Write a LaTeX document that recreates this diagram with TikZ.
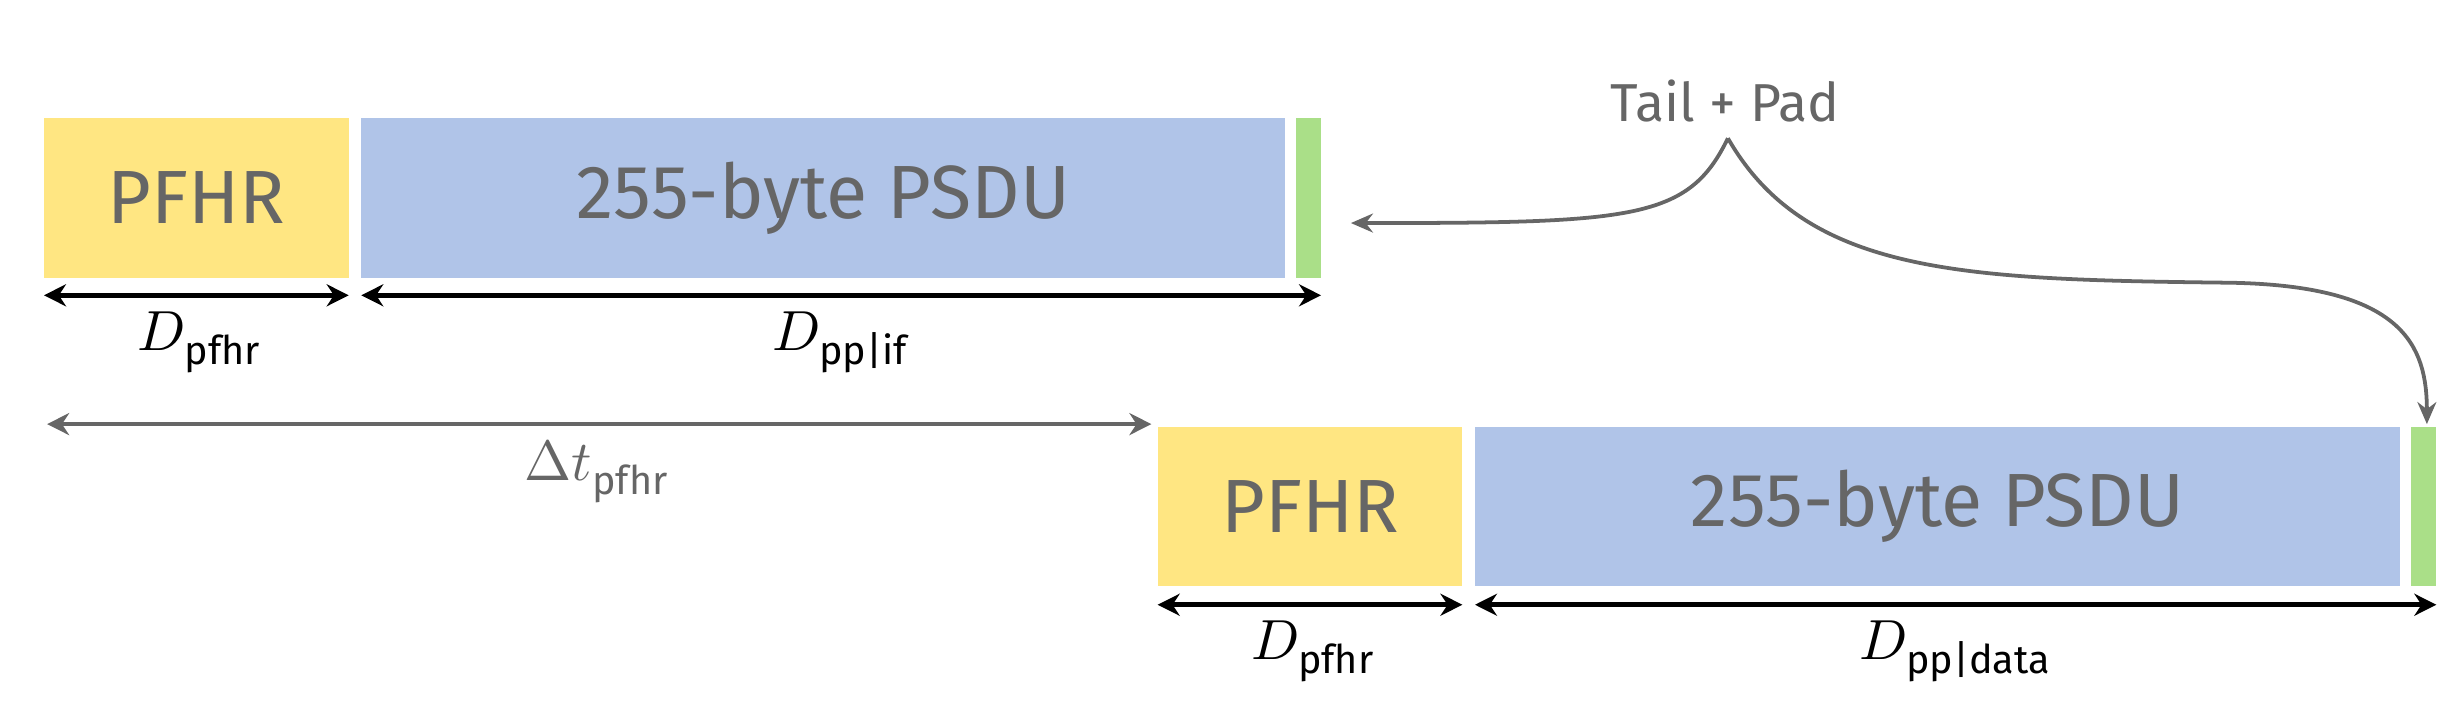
\documentclass[tikz,border=0pt]{standalone}
\usepackage{fontspec}
\setmainfont{Fira Sans}
\usepackage{unicode-math}
\setmathfont{Latin Modern Math}
\usetikzlibrary{arrows.meta}
\definecolor{yel}{HTML}{FFE682}
\definecolor{blu}{HTML}{B0C4E8}
\definecolor{grn}{HTML}{AADF88}
\definecolor{txt}{HTML}{666666}
\begin{document}
\begin{tikzpicture}[x=0.5pt,y=-0.5pt,
  box/.style={inner sep=0,outer sep=0,text=txt,font=\fontsize{24}{28}\selectfont},
  dim/.style={line width=1.5pt,{Stealth[length=7pt,width=7pt]}-{Stealth[length=7pt,width=7pt]}},
  gdim/.style={dim,draw=txt},
  lab/.style={font=\fontsize{18}{22}\selectfont},
  conn/.style={line width=1.2pt,draw=txt,-{Stealth[length=7pt,width=6pt]}}]
\useasboundingbox (0,0) rectangle (1568,458);
% row 1
\fill[yel] (28,75) rectangle (222,177) node[box,pos=.5] (p1) {PFHR};
\fill[blu] (230,75) rectangle (818,177) node[box,pos=.5] (s1) {255-byte PSDU};
\fill[grn] (825,75) rectangle (841,177);
\coordinate (a1) at (28,188); \coordinate (b1) at (222,188);
\coordinate (c1) at (230,188); \coordinate (d1) at (841,188);
\draw[dim] (a1) -- (b1);
\draw[dim] (c1) -- (d1);
\node[lab] (l1) at (127,218) {$D_{\mathrm{pfhr}}$};
\node[lab] (l2) at (535,218) {$D_{\mathrm{pp|if}}$};
% delta
\coordinate (da) at (30,270); \coordinate (db) at (733,270);
\draw[gdim] (da) -- (db);
\node[lab,text=txt] (l3) at (380,300) {$\Delta t_{\mathrm{pfhr}}$};
% row 2
\fill[yel] (737,272) rectangle (931,373) node[box,pos=.5] (p2) {PFHR};
\fill[blu] (939,272) rectangle (1528,373) node[box,pos=.5] (s2) {255-byte PSDU};
\fill[grn] (1535,272) rectangle (1551,373);
\coordinate (a2) at (737,385); \coordinate (b2) at (931,385);
\coordinate (c2) at (939,385); \coordinate (d2) at (1551,385);
\draw[dim] (a2) -- (b2);
\draw[dim] (c2) -- (d2);
\node[lab] (l4) at (836,415) {$D_{\mathrm{pfhr}}$};
\node[lab] (l5) at (1245,415) {$D_{\mathrm{pp|data}}$};
% tail + pad
\node[text=txt,font=\fontsize{17}{20}\selectfont] (tp) at (1098,64) {Tail + Pad};
\coordinate (tip) at (1100,88);
\coordinate (g1) at (860,142);
\coordinate (g2) at (1545,270);
\draw[conn] (tip) .. controls (1075,140) and (1040,142) .. (g1);
\draw[conn] (tip) .. controls (1150,175) and (1250,178) .. (1420,180) .. controls (1530,182) and (1545,220) .. (g2);
\end{tikzpicture}
\end{document}
